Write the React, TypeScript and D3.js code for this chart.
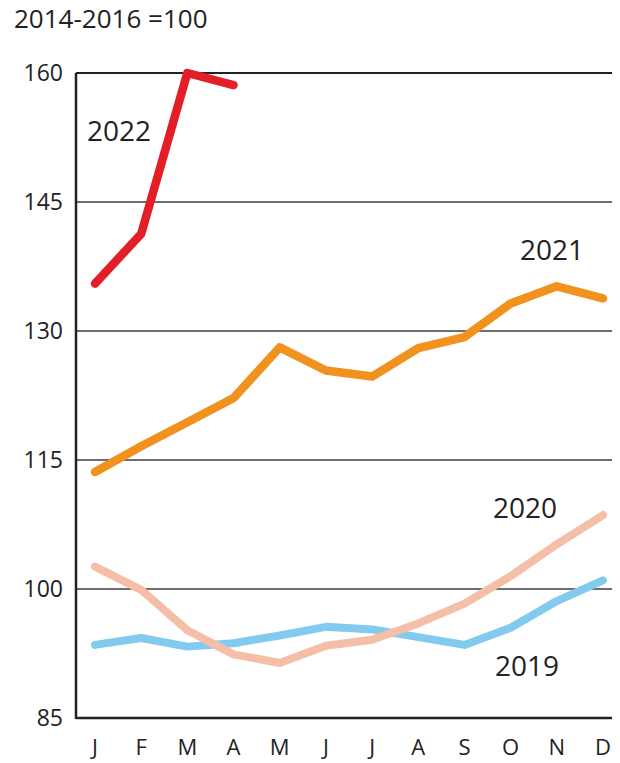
import React from "react";
import * as d3 from "d3";

const months = ["J", "F", "M", "A", "M", "J", "J", "A", "S", "O", "N", "D"];
const yTicks = [85, 100, 115, 130, 145, 160];
const s2019 = [93.5, 94.3, 93.3, 93.7, 94.6, 95.6, 95.3, 94.4, 93.5, 95.5, 98.6, 101.0];
const s2020 = [102.6, 99.9, 95.2, 92.4, 91.4, 93.4, 94.1, 96.0, 98.3, 101.5, 105.2, 108.6];
const s2021 = [113.6, 116.6, 119.4, 122.2, 128.1, 125.4, 124.7, 128.0, 129.3, 133.2, 135.2, 133.8];
const s2022 = [135.5, 141.3, 160.0, 158.6];

const W = 620, H = 763;
const left = 76, right = 612, top = 73, bottom = 718;
const font = "'Open Sans', sans-serif";

export default function App() {
  const x = d3.scalePoint<number>().domain(d3.range(12)).range([95, 603]);
  const y = d3.scaleLinear().domain([85, 160]).range([bottom, top]);
  const line = d3.line<number>().x((_, i) => x(i) as number).y((d) => y(d));
  const series = [
    { data: s2019, color: "#82cbee", w: 8 },
    { data: s2020, color: "#f5bea7", w: 8 },
    { data: s2021, color: "#f1921f", w: 8.5 },
    { data: s2022, color: "#e31e27", w: 8.5 },
  ];
  const labels = [
    { t: "2022", x: 87, y: 141 },
    { t: "2021", x: 520, y: 260 },
    { t: "2020", x: 493, y: 518 },
    { t: "2019", x: 495, y: 676 },
  ];
  return (
    <svg width={W} height={H} style={{ position: "absolute", left: 0, top: 0, background: "#fff" }}>
      <text x={14} y={28} fontFamily={font} fontSize={26} fill="#222">2014-2016 =100</text>
      {yTicks.map((t) => (
        <g key={t}>
          <line x1={left} x2={right} y1={y(t)} y2={y(t)}
            stroke={t === 160 || t === 85 ? "#222" : "#6e6e6e"} strokeWidth={t === 85 ? 2.5 : 2} />
          <text x={63} y={y(t) + 8} textAnchor="end" fontFamily={font} fontSize={23} fill="#222">{t}</text>
        </g>
      ))}
      <line x1={left} x2={left} y1={top} y2={bottom + 1} stroke="#222" strokeWidth={2.5} />
      {months.map((m, i) => (
        <text key={i} x={x(i)} y={755} textAnchor="middle" fontFamily={font} fontSize={22} fill="#222">{m}</text>
      ))}
      {series.map((s, i) => (
        <path key={i} d={line(s.data) || ""} fill="none" stroke={s.color} strokeWidth={s.w}
          strokeLinejoin="round" strokeLinecap="round" />
      ))}
      {labels.map((l) => (
        <text key={l.t} x={l.x} y={l.y} fontFamily={font} fontSize={28} fill="#222">{l.t}</text>
      ))}
    </svg>
  );
}
